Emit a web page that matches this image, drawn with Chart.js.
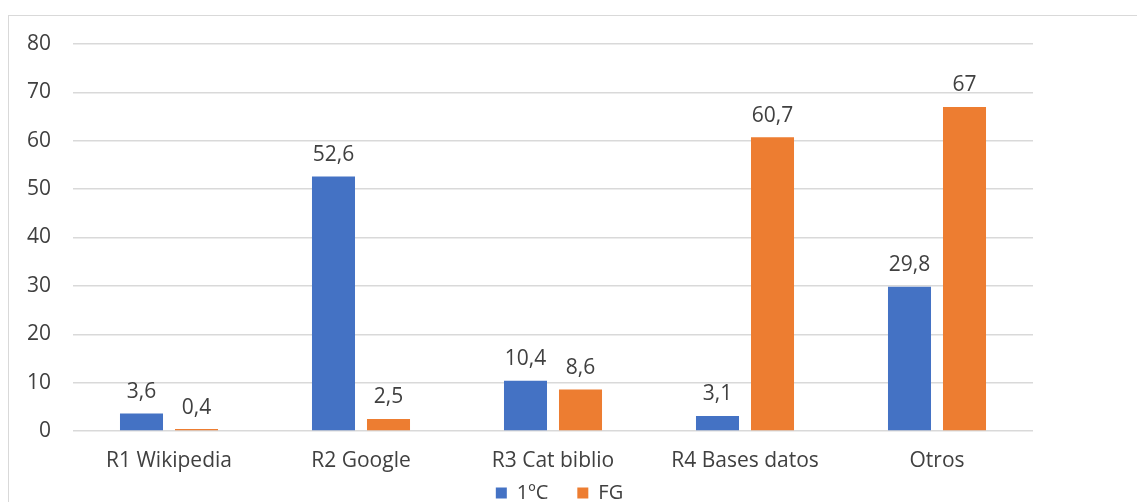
<!DOCTYPE html>
<html>
<head>
<meta charset="utf-8">
<script src="https://cdn.jsdelivr.net/npm/chart.js@4"></script>
<style>
html,body{margin:0;padding:0;background:#fff;overflow:hidden;}
#frame{position:absolute;left:8px;top:15px;width:1140px;height:500px;border:1.5px solid #d9d9d9;box-sizing:border-box;}
#wrap{position:absolute;left:0;top:0;width:1137px;height:502px;}
</style>
</head>
<body>
<div id="frame"></div>
<div id="wrap"><canvas id="c" width="1137" height="502"></canvas></div>
<script>
const categories = ["R1 Wikipedia","R2 Google","R3 Cat biblio","R4 Bases datos","Otros"];
const series1Name = "1ºC";
const series1 = [3.6, 52.6, 10.4, 3.1, 29.8];
const series2Name = "FG";
const series2 = [0.4, 2.5, 8.6, 60.7, 67];
const yTicks = [0,10,20,30,40,50,60,70,80];

const FONT = "'Open Sans', 'Noto Sans', sans-serif";
const TXT = "#404040";

const labelPlugin = {
  id: 'barLabels',
  afterDatasetsDraw(chart) {
    const ctx = chart.ctx;
    ctx.save();
    ctx.font = "21px " + FONT;
    ctx.fillStyle = TXT;
    ctx.textAlign = 'center';
    ctx.textBaseline = 'bottom';
    chart.data.datasets.forEach((ds, i) => {
      const meta = chart.getDatasetMeta(i);
      meta.data.forEach((bar, j) => {
        const v = ds.data[j];
        ctx.fillText(String(v).replace('.', ','), bar.x, bar.y - 11);
      });
    });
    ctx.restore();
  }
};

const legendShift = {
  id: 'legendShift',
  afterLayout(chart) {
    const lg = chart.legend;
    if (lg) {
      const target = chart.chartArea.bottom + 23;
      const d = lg.top - target;
      lg.top -= d; lg.bottom -= d;
    }
  }
};

new Chart(document.getElementById('c'), {
  type: 'bar',
  data: {
    labels: categories,
    datasets: [
      {label: series1Name, data: series1, backgroundColor: '#4472C4', categoryPercentage: 0.573, barPercentage: 0.782},
      {label: series2Name, data: series2, backgroundColor: '#ED7D31', categoryPercentage: 0.573, barPercentage: 0.782}
    ]
  },
  options: {
    responsive: false,
    animation: false,
    devicePixelRatio: 1,
    layout: {padding: {left: 0, right: 18, top: 44, bottom: -36}},
    plugins: {
      tooltip: {enabled: false},
      legend: {
        position: 'bottom',
        labels: {boxWidth: 11, boxHeight: 11, color: TXT, font: {family: FONT, size: 20}, padding: 29}
      }
    },
    scales: {
      x: {
        grid: {display: false},
        border: {display: false},
        afterFit(scale) { scale.height = 48; },
        ticks: {color: TXT, font: {family: FONT, size: 21}, padding: 9}
      },
      y: {
        min: 0, max: 80,
        afterBuildTicks(scale) { scale.ticks = yTicks.map(v => ({value: v})); },
        afterFit(scale) { scale.width = 73; },
        grid: {color: '#d9d9d9', lineWidth: 1.5, drawTicks: false},
        border: {display: false},
        ticks: {color: TXT, font: {family: FONT, size: 21}, padding: 22}
      },
      yRight: {
        position: 'right',
        display: true,
        grid: {display: false},
        border: {display: false},
        ticks: {display: false},
        afterFit(scale) { scale.width = 86; }
      }
    }
  },
  plugins: [labelPlugin, legendShift]
});
</script>
</body>
</html>
